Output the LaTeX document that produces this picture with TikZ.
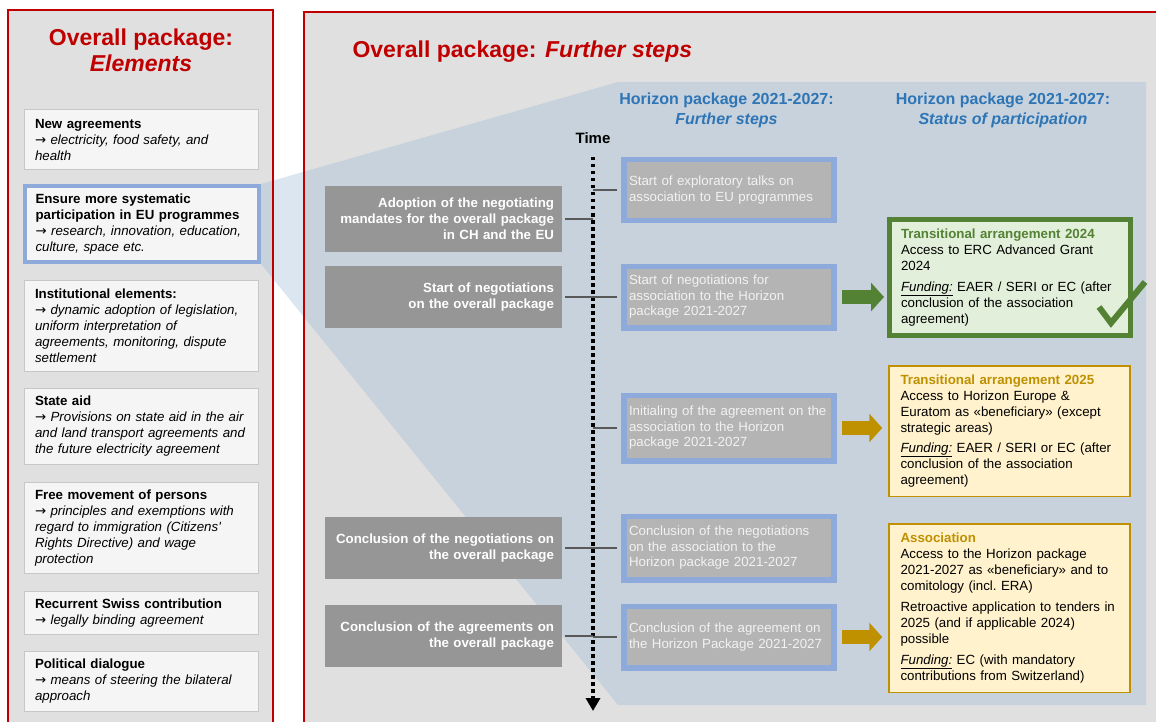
\documentclass[tikz,border=0pt]{standalone}
\usepackage{fontspec}
\setmainfont{Liberation Sans}[Ligatures=TeXOff]
\newfontfamily\symbolfont{DejaVu Sans}
\usepackage{xcolor}
\usetikzlibrary{arrows.meta, positioning}

\definecolor{panelgrey}{RGB}{224,224,224}
\definecolor{framered}{RGB}{192,0,0}
\definecolor{hlblue}{RGB}{142,170,219}
\definecolor{headblue}{RGB}{46,117,182}
\definecolor{fanblue}{RGB}{156,185,213}
\definecolor{stepgrey}{RGB}{150,150,150}
\definecolor{hgrey}{RGB}{180,180,180}
\definecolor{okgreen}{RGB}{84,130,53}
\definecolor{okfill}{RGB}{226,239,218}
\definecolor{goldline}{RGB}{191,144,0}
\definecolor{goldfill}{RGB}{255,242,204}
\definecolor{linkgrey}{RGB}{89,89,89}

\newcommand{\pointer}{{\symbolfont →}\ }

\begin{document}
\begin{tikzpicture}[x=1pt, y=-1pt,
    title/.style={font=\fontsize{23}{26}\selectfont\bfseries, text=framered},
    header/.style={font=\fontsize{16}{20}\selectfont\bfseries, text=headblue, align=center},
    element/.style={draw=black!22, line width=1pt, fill=black!4, text width=212pt, inner xsep=11pt,
        inner ysep=4pt, align=left, anchor=north, font=\fontsize{13.3}{16}\selectfont},
    milestone/.style={fill=stepgrey, text=white, text width=221pt, inner xsep=8pt, align=right,
        minimum height=62pt, font=\fontsize{13.3}{16}\selectfont\bfseries},
    hstep/.style={draw=hlblue, line width=5.5pt, fill=hgrey, text=white!95!black, text width=200pt,
        inner xsep=5pt, align=left, font=\fontsize{13.3}{15.5}\selectfont},
    status/.style={text width=218pt, inner xsep=11.5pt, align=left, font=\fontsize{13.3}{16}\selectfont},
    link/.style={draw=linkgrey, line width=1.5pt},
    fatarrow/.style={line width=14pt, -{Triangle[length=13pt, width=28pt]}, shorten <=5pt}]

    \useasboundingbox (0,0) rectangle (1156,722);
    \fill[panelgrey] (8,10) rectangle (273,740);
    \fill[panelgrey] (304,12) rectangle (1170,740);
    \fill[fanblue, opacity=0.355] (261,184) -- (618,82) -- (1146,82) -- (1146,705) -- (618,705) -- (261,264) -- cycle;
    \draw[framered, line width=2.5pt] (8,10) rectangle (273,740);
    \draw[framered, line width=2.5pt] (304,12) rectangle (1170,740);

    \node[title, align=center] (elemtitle) at (141,50)
        {Overall package:\\ \textit{Elements}};
    \node[title, anchor=west] (steptitle) at (349,52)
        {Overall package: \textit{Further steps}};

    \node[element, minimum height=60pt] (newagr) at (141,109)
        {\textbf{New agreements}\\ \pointer\textit{electricity, food safety, and}\\ \textit{health}};
    \node[element, draw=hlblue, line width=4pt, minimum height=76pt] (progs) at (141.5,184)
        {\textbf{Ensure more systematic}\\ \textbf{participation in EU programmes}\\
         \pointer\textit{research, innovation, education,}\\ \textit{culture, space etc.}};
    \node[element, minimum height=91pt] (instit) at (141,280)
        {\textbf{Institutional elements:}\\ \pointer\textit{dynamic adoption of legislation,}\\
         \textit{uniform interpretation of}\\ \textit{agreements, monitoring, dispute}\\ \textit{settlement}};
    \node[element, minimum height=76pt] (stateaid) at (141,388)
        {\textbf{State aid}\\ \pointer\textit{Provisions on state aid in the air}\\
         \textit{and land transport agreements and}\\ \textit{the future electricity agreement}};
    \node[element, minimum height=91pt] (persons) at (141,482)
        {\textbf{Free movement of persons}\\ \pointer\textit{principles and exemptions with}\\
         \textit{regard to immigration (Citizens'}\\ \textit{Rights Directive) and wage}\\ \textit{protection}};
    \node[element, minimum height=43pt] (contrib) at (141,591)
        {\textbf{Recurrent Swiss contribution}\\ \pointer\textit{legally binding agreement}};
    \node[element, minimum height=60pt] (dialogue) at (141,651)
        {\textbf{Political dialogue}\\ \pointer\textit{means of steering the bilateral}\\ \textit{approach}};

    \node[header] (hsteps) at (726.5,110)
        {Horizon package 2021-2027:\\ \textit{Further steps}};
    \node[header] (hstatus) at (1003,110)
        {Horizon package 2021-2027:\\ \textit{Status of participation}};

    \node[font=\fontsize{15}{18}\selectfont\bfseries] (time) at (593,138) {Time};
    \coordinate (tltop) at (593,157);
    \coordinate (tlend) at (593,711);
    \draw[line width=3.5pt, dash pattern=on 3.5pt off 3.5pt, -{Triangle[length=13pt, width=14pt]}] (tltop) -- (tlend);

    \node[milestone, minimum height=66pt] (mandates) at (443.5,219)
        {Adoption of the negotiating\\ mandates for the overall package\\ in CH and the EU};
    \node[milestone] (negstart) at (443.5,297)
        {Start of negotiations\\ on the overall package};
    \node[milestone] (negend) at (443.5,548)
        {Conclusion of the negotiations on\\ the overall package};
    \node[milestone] (agrend) at (443.5,636)
        {Conclusion of the agreements on\\ the overall package};

    \node[hstep, minimum height=60.5pt] (explore) at (729,190)
        {Start of exploratory talks on\\ association to EU programmes};
    \node[hstep, minimum height=61.5pt] (hnegstart) at (729,297)
        {Start of negotiations for\\ association to the Horizon\\ package 2021-2027};
    \node[hstep, minimum height=65.5pt] (initial) at (729,428)
        {Initialing of the agreement on the\\ association to the Horizon\\ package 2021-2027};
    \node[hstep, minimum height=63.5pt] (hnegend) at (729,548)
        {Conclusion of the negotiations\\ on the association to the\\ Horizon package 2021-2027};
    \node[hstep, minimum height=61.5pt] (hagrend) at (729,637)
        {Conclusion of the agreement on\\ the Horizon Package 2021-2027};

    \node[status, draw=okgreen, line width=5pt, fill=okfill, minimum height=116pt] (ta24) at (1010,277.5)
        {\textbf{\color{okgreen}Transitional arrangement 2024}\\ Access to ERC Advanced Grant\\ 2024\\[5pt]
         \underline{\textit{Funding:}} EAER / SERI or EC (after\\ conclusion of the association\\ agreement)};
    \node[status, draw=goldline, line width=1.5pt, fill=goldfill, minimum height=130.5pt] (ta25) at (1009.5,431)
        {\textbf{\color{goldline}Transitional arrangement 2025}\\ Access to Horizon Europe \&\\
         Euratom as «beneficiary» (except\\ strategic areas)\\[4pt]
         \underline{\textit{Funding:}} EAER / SERI or EC (after\\ conclusion of the association\\ agreement)};
    \node[status, draw=goldline, line width=1.5pt, fill=goldfill, minimum height=168.5pt] (assoc) at (1009.5,608)
        {\textbf{\color{goldline}Association}\\ Access to the Horizon package\\
         2021-2027 as «beneficiary» and to\\ comitology (incl.\ ERA)\\[5pt]
         Retroactive application to tenders in\\ 2025 (and if applicable 2024)\\ possible\\[5pt]
         \underline{\textit{Funding:}} EC (with mandatory\\ contributions from Switzerland)};

    \draw[okgreen, line width=6pt] (1099,307) -- (1111,323) -- (1145,282);

    \draw[link, shorten <=3pt] (mandates.east) -- (mandates.east -| tltop);
    \draw[link, shorten <=3pt] (negstart.east) -- (negstart.east -| tltop);
    \draw[link, shorten <=3pt] (negend.east) -- (negend.east -| tltop);
    \draw[link, shorten <=3pt] (agrend.east) -- (agrend.east -| tltop);
    \draw[link, shorten >=4pt] (explore.west -| tltop) -- (explore.west);
    \draw[link, shorten >=4pt] (hnegstart.west -| tltop) -- (hnegstart.west);
    \draw[link, shorten >=4pt] (initial.west -| tltop) -- (initial.west);
    \draw[link, shorten >=4pt] (hnegend.west -| tltop) -- (hnegend.west);
    \draw[link, shorten >=4pt] (hagrend.west -| tltop) -- (hagrend.west);

    \draw[fatarrow, okgreen, shorten >=3pt] (hnegstart.east) -- (hnegstart.east -| ta24.west);
    \draw[fatarrow, goldline, shorten >=6pt] (initial.east) -- (initial.east -| ta25.west);
    \draw[fatarrow, goldline, shorten >=6pt] (hagrend.east) -- (hagrend.east -| assoc.west);
\end{tikzpicture}
\end{document}
